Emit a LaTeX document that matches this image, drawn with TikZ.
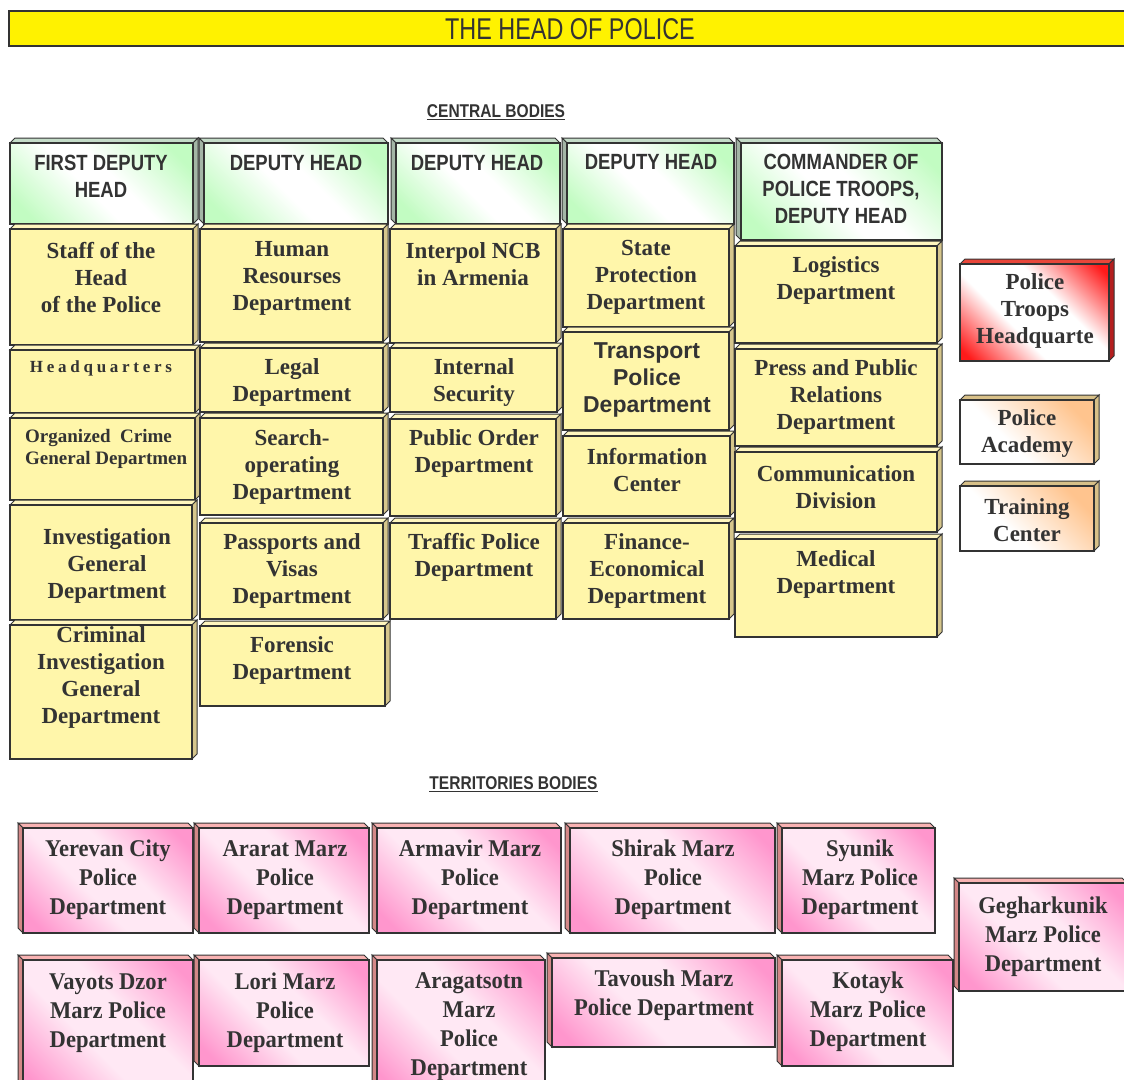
\documentclass[tikz,border=0pt]{standalone}
\usepackage{fontspec}
\setmainfont{Liberation Serif}
\setsansfont{Liberation Sans}
\newfontfamily\narrowsans[FakeStretch=0.84]{Liberation Sans}
\newfontfamily\titlesans[FakeStretch=0.78]{Liberation Sans}
\newfontfamily\pinkserif[FakeStretch=0.94]{Liberation Serif}

\definecolor{ink}{HTML}{333333}
\definecolor{edge}{HTML}{333333}
\definecolor{titleyellow}{HTML}{FFF200}
\definecolor{deptfill}{HTML}{FFF6AA}
\definecolor{depttop}{HTML}{FFF6BE}
\definecolor{deptside}{HTML}{D6C68C}
\definecolor{headgreen}{HTML}{C2FCC2}
\definecolor{headtop}{HTML}{C4DCC8}
\definecolor{headside}{HTML}{A4B6A6}
\definecolor{pinkdeep}{HTML}{FF96CD}
\definecolor{pinklight}{HTML}{FFE8F4}
\definecolor{pinktop}{HTML}{F8B2B2}
\definecolor{pinkside}{HTML}{D48888}
\definecolor{troopred}{HTML}{FF1A1A}
\definecolor{trooptop}{HTML}{E8463A}
\definecolor{troopside}{HTML}{B41E1E}
\definecolor{peach}{HTML}{FFC48E}
\definecolor{peachside}{HTML}{D8C088}

\pgfdeclarehorizontalshading{greendiag}{100bp}{color(0bp)=(headgreen); color(22bp)=(headgreen); color(45bp)=(white); color(55bp)=(white); color(78bp)=(headgreen); color(100bp)=(headgreen)}
\pgfdeclarehorizontalshading{pinkdiag}{100bp}{color(0bp)=(pinkdeep); color(20bp)=(pinkdeep); color(42bp)=(pinklight); color(58bp)=(pinklight); color(80bp)=(pinkdeep); color(100bp)=(pinkdeep)}
\pgfdeclarehorizontalshading{reddiag}{100bp}{color(0bp)=(troopred); color(18bp)=(troopred); color(40bp)=(white); color(60bp)=(white); color(82bp)=(troopred); color(100bp)=(troopred)}
\pgfdeclarehorizontalshading{peachdiag}{100bp}{color(0bp)=(white); color(40bp)=(white); color(75bp)=(peach); color(100bp)=(peach)}

\begin{document}
\begin{tikzpicture}[x=1pt, y=-1pt,
    box/.style={rectangle, draw=edge, line width=1.4pt, inner sep=0pt, outer sep=0pt},
    faceur/.style 2 args={append after command={\pgfextra{
        \filldraw[fill=#1, draw=edge, line width=1pt]
          (\tikzlastnode.north west) -- ++(5,-5)
          -- ([shift={(5,-5)}]\tikzlastnode.north east) -- (\tikzlastnode.north east) -- cycle;
        \filldraw[fill=#2, draw=edge, line width=1pt]
          (\tikzlastnode.north east) -- ++(5,-5)
          -- ([shift={(5,-5)}]\tikzlastnode.south east) -- (\tikzlastnode.south east) -- cycle;}}},
    faceul/.style 2 args={append after command={\pgfextra{
        \filldraw[fill=#1, draw=edge, line width=1pt]
          (\tikzlastnode.north east) -- ++(-5,-5)
          -- ([shift={(-5,-5)}]\tikzlastnode.north west) -- (\tikzlastnode.north west) -- cycle;
        \filldraw[fill=#2, draw=edge, line width=1pt]
          (\tikzlastnode.north west) -- ++(-5,-5)
          -- ([shift={(-5,-5)}]\tikzlastnode.south west) -- (\tikzlastnode.south west) -- cycle;}}},
    dept/.style={box, fill=deptfill, faceur={depttop}{deptside}},
    headr/.style={box, shade, shading=greendiag, shading angle=45, faceur={headtop}{headside}},
    headl/.style={box, shade, shading=greendiag, shading angle=45, faceul={headtop}{headside}},
    marz/.style={box, shade, shading=pinkdiag, shading angle=45, faceul={pinktop}{pinkside}},
    troops/.style={box, shade, shading=reddiag, shading angle=45, faceur={trooptop}{troopside}},
    school/.style={box, shade, shading=peachdiag, shading angle=45, faceur={peachside}{peachside}},
    dtext/.style={align=center, text=ink, inner sep=0pt,
                  font=\bfseries\fontsize{23}{27}\selectfont},
    htext/.style={align=center, text=ink, inner sep=0pt,
                  font=\narrowsans\bfseries\fontsize{22}{27}\selectfont},
    mtext/.style={align=center, text=ink, inner sep=0pt,
                  font=\pinkserif\bfseries\fontsize{24}{29}\selectfont},
    section/.style={text=ink, inner sep=0pt,
                  font=\narrowsans\bfseries\fontsize{18.5}{22}\selectfont}
  ]
    \useasboundingbox (0,0) rectangle (1124,1079);

    % the head
    \node[box, fill=titleyellow, minimum width=1121pt, minimum height=35pt] (head) at (569.5,28.5) {};
    \node[text=ink, inner sep=0pt, font=\titlesans\fontsize{30}{34}\selectfont] (headtxt) at (570,29) {THE HEAD OF POLICE};

    \node[section] (central) at (496,112) {\underline{CENTRAL BODIES}};

    % first deputy head
    \node[headr, minimum width=183pt, minimum height=81pt] (fdh) at (101.5,183.5) {};
    \node[htext] (fdhtxt) at (101,176.5) {FIRST DEPUTY\\HEAD};
    \node[dept, minimum width=183pt, minimum height=116pt] (staff) at (101.5,287) {};
    \node[dtext] (stafftxt) at (101,278) {Staff of the\\Head\\of the Police};
    \node[dept, minimum width=185pt, minimum height=63pt] (hq) at (102.5,381.5) {};
    \node[text=ink, inner sep=0pt, font=\bfseries\fontsize{17}{20}\selectfont\addfontfeatures{LetterSpace=22}] (hqtxt) at (101,368) {Headquarters};
    \node[dept, minimum width=185pt, minimum height=82pt] (orgcrime) at (102.5,459) {};
    \node[align=left, anchor=west, text=ink, inner sep=0pt, font=\bfseries\fontsize{19}{22}\selectfont] (orgcrimetxt) at (25,449) {Organized\ \ Crime\\General Departmen};
    \node[dept, minimum width=182pt, minimum height=115pt] (invest) at (101,562.5) {};
    \node[dtext] (investtxt) at (107,565.5) {Investigation\\General\\Department};
    \node[dept, minimum width=182pt, minimum height=134pt] (criminal) at (101,692) {};
    \node[dtext] (criminaltxt) at (101,677) {Criminal\\Investigation\\General\\Department};

    % deputy head 1
    \node[headl, minimum width=184pt, minimum height=81pt] (dh1) at (296,183.5) {};
    \node[htext] (dh1txt) at (296,163) {DEPUTY HEAD};
    \node[dept, minimum width=183pt, minimum height=113pt] (human) at (291.5,285.5) {};
    \node[dtext] (humantxt) at (292,278) {Human\\Resourses\\Department};
    \node[dept, minimum width=183pt, minimum height=64pt] (legal) at (291.5,380) {};
    \node[dtext] (legaltxt) at (292,382) {Legal\\Department};
    \node[dept, minimum width=183pt, minimum height=97pt] (search) at (291.5,466.5) {};
    \node[dtext] (searchtxt) at (292,467) {Search-\\operating\\Department};
    \node[dept, minimum width=183pt, minimum height=96pt] (passports) at (291.5,571) {};
    \node[dtext] (passportstxt) at (292,570.5) {Passports and\\Visas\\Department};
    \node[dept, minimum width=185pt, minimum height=80pt] (forensic) at (292.5,666) {};
    \node[dtext] (forensictxt) at (292,660) {Forensic\\Department};

    % deputy head 2
    \node[headl, minimum width=164pt, minimum height=81pt] (dh2) at (478,183.5) {};
    \node[htext] (dh2txt) at (477,163) {DEPUTY HEAD};
    \node[dept, minimum width=166pt, minimum height=114pt] (interpol) at (473,286) {};
    \node[dtext] (interpoltxt) at (473,264.5) {Interpol NCB\\in Armenia};
    \node[dept, minimum width=167pt, minimum height=64pt] (internal) at (473.5,380) {};
    \node[dtext] (internaltxt) at (474,382) {Internal\\Security};
    \node[dept, minimum width=166pt, minimum height=97pt] (order) at (473,467.5) {};
    \node[dtext] (ordertxt) at (474,453.5) {Public Order\\Department};
    \node[dept, minimum width=166pt, minimum height=96pt] (traffic) at (473,571) {};
    \node[dtext] (traffictxt) at (474,557.5) {Traffic Police\\Department};

    % deputy head 3
    \node[headl, minimum width=167pt, minimum height=81pt] (dh3) at (650.5,183.5) {};
    \node[htext] (dh3txt) at (651,162) {DEPUTY HEAD};
    \node[dept, minimum width=166pt, minimum height=98pt] (state) at (646,278) {};
    \node[dtext] (statetxt) at (646,277) {State\\Protection\\Department};
    \node[dept, minimum width=166pt, minimum height=98pt] (transport) at (646,381) {};
    \node[align=center, text=ink, inner sep=0pt, font=\sffamily\bfseries\fontsize{23}{27}\selectfont] (transporttxt) at (647,380) {Transport\\Police\\Department};
    \node[dept, minimum width=167pt, minimum height=80pt] (info) at (646.5,476) {};
    \node[dtext] (infotxt) at (647,470) {Information\\Center};
    \node[dept, minimum width=166pt, minimum height=96pt] (finance) at (646,571) {};
    \node[dtext] (financetxt) at (647,571) {Finance-\\Economical\\Department};

    % commander of police troops
    \node[headl, minimum width=201pt, minimum height=97pt] (cmd) at (841.5,191.5) {};
    \node[htext] (cmdtxt) at (841,188.5) {COMMANDER OF\\POLICE TROOPS,\\DEPUTY HEAD};
    \node[dept, minimum width=202pt, minimum height=97pt] (logistics) at (836,294.5) {};
    \node[dtext] (logisticstxt) at (836,280.5) {Logistics\\Department};
    \node[dept, minimum width=202pt, minimum height=97pt] (press) at (836,397.5) {};
    \node[dtext] (presstxt) at (836,397) {Press and Public\\Relations\\Department};
    \node[dept, minimum width=202pt, minimum height=80pt] (comm) at (836,492) {};
    \node[dtext] (commtxt) at (836,487) {Communication\\Division};
    \node[dept, minimum width=202pt, minimum height=98pt] (medical) at (836,588) {};
    \node[dtext] (medicaltxt) at (836,574) {Medical\\Department};

    % side bodies
    \node[troops, minimum width=149pt, minimum height=97pt] (troophq) at (1034.5,312.5) {};
    \node[dtext] (troophqtxt) at (1035,311) {Police\\Troops\\Headquarte};
    \node[school, minimum width=134pt, minimum height=64pt] (academy) at (1027,432) {};
    \node[dtext] (academytxt) at (1027,433.5) {Police\\Academy};
    \node[school, minimum width=134pt, minimum height=65pt] (training) at (1027,518.5) {};
    \node[dtext] (trainingtxt) at (1027,520.5) {Training\\Center};

    \node[section] (territories) at (513.5,784) {\underline{TERRITORIES BODIES}};

    % marz police, first row
    \node[marz, minimum width=170pt, minimum height=105pt] (yerevan) at (108,880.5) {};
    \node[mtext] (yerevantxt) at (108,880) {Yerevan City\\Police\\Department};
    \node[marz, minimum width=170pt, minimum height=105pt] (ararat) at (284,880.5) {};
    \node[mtext] (ararattxt) at (285,880) {Ararat Marz\\Police\\Department};
    \node[marz, minimum width=184pt, minimum height=105pt] (armavir) at (469,880.5) {};
    \node[mtext] (armavirtxt) at (470,880) {Armavir Marz\\Police\\Department};
    \node[marz, minimum width=205pt, minimum height=105pt] (shirak) at (672.5,880.5) {};
    \node[mtext] (shiraktxt) at (673,880) {Shirak Marz\\Police\\Department};
    \node[marz, minimum width=153pt, minimum height=105pt] (syunik) at (858.5,880.5) {};
    \node[mtext] (syuniktxt) at (860,880) {Syunik\\Marz Police\\Department};
    \node[marz, minimum width=168pt, minimum height=108pt] (gegharkunik) at (1043,937) {};
    \node[mtext] (gegharkuniktxt) at (1043,937) {Gegharkunik\\Marz Police\\Department};

    % marz police, second row
    \node[marz, minimum width=170pt, minimum height=135pt] (vayots) at (108,1027.5) {};
    \node[mtext] (vayotstxt) at (108,1013.5) {Vayots Dzor\\Marz Police\\Department};
    \node[marz, minimum width=170pt, minimum height=106pt] (lori) at (284,1013) {};
    \node[mtext] (loritxt) at (285,1012.5) {Lori Marz\\Police\\Department};
    \node[marz, minimum width=168pt, minimum height=135pt] (aragatsotn) at (461,1027.5) {};
    \node[mtext] (aragatsotntxt) at (469,1027) {Aragatsotn\\Marz\\Police\\Department};
    \node[marz, minimum width=223pt, minimum height=89pt] (tavoush) at (663.5,1002.5) {};
    \node[mtext] (tavoushtxt) at (664,995.5) {Tavoush Marz\\Police Department};
    \node[marz, minimum width=171pt, minimum height=106pt] (kotayk) at (867.5,1013) {};
    \node[mtext] (kotayktxt) at (868,1012) {Kotayk\\Marz Police\\Department};

\end{tikzpicture}
\end{document}
